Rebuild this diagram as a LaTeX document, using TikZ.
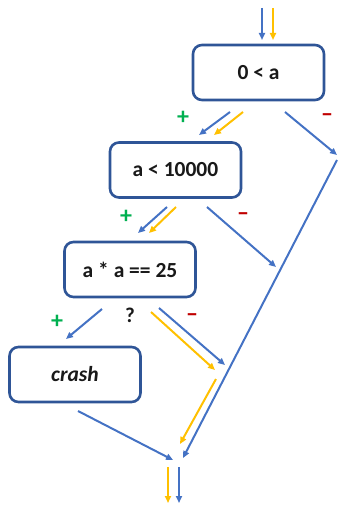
\documentclass[tikz,border=0pt]{standalone}
\usepackage{fontspec}
\setmainfont{Carlito}
\usetikzlibrary{arrows.meta}
\definecolor{boxblue}{HTML}{2F5597}
\definecolor{flowblue}{HTML}{4472C4}
\definecolor{flowyellow}{HTML}{FFC000}
\definecolor{plusgreen}{HTML}{00B050}
\definecolor{minusred}{HTML}{C00000}
\tikzset{
  cond/.style={draw=boxblue, line width=2.6pt, rounded corners=9pt, fill=white,
    minimum width=131pt, minimum height=55pt, text=black!90,
    font=\bfseries\fontsize{21.5}{24}\selectfont},
  bluepath/.style={draw=flowblue, line width=2pt, -{Triangle[length=7pt,width=6pt]}},
  yellowpath/.style={draw=flowyellow, line width=2pt, -{Triangle[length=7pt,width=6pt]}},
  plus/.style={text=plusgreen, font=\bfseries\fontsize{24}{26}\selectfont},
  minus/.style={text=minusred, font=\bfseries\fontsize{24}{26}\selectfont}
}
\begin{document}
\begin{tikzpicture}[x=1pt,y=-1pt]
\useasboundingbox (0,0) rectangle (339,505);
% conditions
\node[cond] (pos) at (258.5,72.5) {0 < a};
\node[cond] (small) at (175.5,170) {a < 10000};
\node[cond] (square) at (130,269.5) {a * a == 25};
\node[cond, font=\bfseries\itshape\fontsize{21.5}{24}\selectfont] (crash) at (75,374.5) {crash};
% end points
\coordinate (inB) at (262,8);   \coordinate (inBe) at (262,40);
\coordinate (inY) at (273,8);   \coordinate (inYe) at (273,40);
\coordinate (p1b) at (230,112); \coordinate (p1be) at (199,135);
\coordinate (p1y) at (243,112); \coordinate (p1ye) at (214,135);
\coordinate (m1) at (285,112);  \coordinate (m1e) at (337,155);
\coordinate (far) at (337,160); \coordinate (fare) at (183,458);
\coordinate (p2b) at (167,207); \coordinate (p2be) at (138,233);
\coordinate (p2y) at (176,207); \coordinate (p2ye) at (149,233);
\coordinate (m2) at (207,207);  \coordinate (m2e) at (276,267);
\coordinate (p3) at (102,309);  \coordinate (p3e) at (66,339);
\coordinate (q3y) at (151,312); \coordinate (q3ye) at (215,370);
\coordinate (m3) at (159,308);  \coordinate (m3e) at (225,365);
\coordinate (jy) at (216,379);  \coordinate (jye) at (180,444);
\coordinate (cr) at (78,411);   \coordinate (cre) at (173,460);
\coordinate (outY) at (168,467); \coordinate (outYe) at (168,503);
\coordinate (outB) at (179,467); \coordinate (outBe) at (179,503);
% flows
\draw[bluepath] (inB) -- (inBe);
\draw[yellowpath] (inY) -- (inYe);
\draw[bluepath] (p1b) -- (p1be);
\draw[yellowpath] (p1y) -- (p1ye);
\draw[bluepath] (m1) -- (m1e);
\draw[bluepath] (far) -- (fare);
\draw[bluepath] (p2b) -- (p2be);
\draw[yellowpath] (p2y) -- (p2ye);
\draw[bluepath] (m2) -- (m2e);
\draw[bluepath] (p3) -- (p3e);
\draw[yellowpath] (q3y) -- (q3ye);
\draw[bluepath] (m3) -- (m3e);
\draw[yellowpath] (jy) -- (jye);
\draw[bluepath] (cr) -- (cre);
\draw[yellowpath] (outY) -- (outYe);
\draw[bluepath] (outB) -- (outBe);
% branch signs
\node[plus] (pl1) at (183,118) {+};
\node[minus] (mi1) at (327,118) {–};
\node[plus] (pl2) at (126,217) {+};
\node[minus] (mi2) at (243,217) {–};
\node[plus] (pl3) at (57,322) {+};
\node[text=black!90, font=\bfseries\fontsize{21}{24}\selectfont] (unk) at (130,315) {?};
\node[minus] (mi3) at (192,318) {–};
\end{tikzpicture}
\end{document}
